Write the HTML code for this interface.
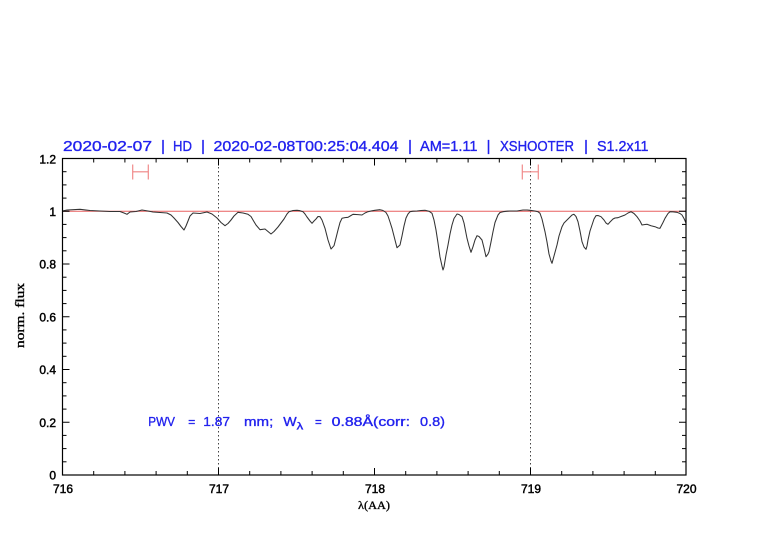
<!DOCTYPE html>
<html>
<head>
<meta charset="utf-8">
<style>
html,body{margin:0;padding:0;background:#fff;}
svg{display:block;}
</style>
</head>
<body>
<svg width="782" height="542" viewBox="0 0 782 542" xmlns="http://www.w3.org/2000/svg">
<rect width="782" height="542" fill="#fff"/>

<!-- title -->
<g font-family="Liberation Sans, sans-serif" font-size="14.5" fill="#2222ee" stroke="#2222ee" stroke-width="0.35" lengthAdjust="spacingAndGlyphs">
<text x="63" y="151" textLength="89" lengthAdjust="spacingAndGlyphs">2020-02-07</text>
<text x="163" y="151" text-anchor="middle">|</text>
<text x="173" y="151" textLength="19" lengthAdjust="spacingAndGlyphs">HD</text>
<text x="203" y="151" text-anchor="middle">|</text>
<text x="213.5" y="151" textLength="185" lengthAdjust="spacingAndGlyphs">2020-02-08T00:25:04.404</text>
<text x="410" y="151" text-anchor="middle">|</text>
<text x="420" y="151" textLength="57.5" lengthAdjust="spacingAndGlyphs">AM=1.11</text>
<text x="488.5" y="151" text-anchor="middle">|</text>
<text x="500" y="151" textLength="74" lengthAdjust="spacingAndGlyphs">XSHOOTER</text>
<text x="586" y="151" text-anchor="middle">|</text>
<text x="597" y="151" textLength="51.5" lengthAdjust="spacingAndGlyphs">S1.2x11</text>
</g>

<!-- dotted vertical lines -->
<line x1="218.5" y1="159" x2="218.5" y2="475" stroke="#444" stroke-width="1" stroke-dasharray="1.5,2.5"/>
<line x1="530.5" y1="159" x2="530.5" y2="475" stroke="#444" stroke-width="1" stroke-dasharray="1.5,2.5"/>

<!-- reference line at 1 -->
<line x1="62.5" y1="211.3" x2="686" y2="211.3" stroke="#e86060" stroke-width="1"/>

<!-- red bars -->
<g stroke="#f08a8a" stroke-width="1.2" fill="none">
<line x1="132.7" y1="164.5" x2="132.7" y2="179.5"/>
<line x1="148.3" y1="164.5" x2="148.3" y2="179.5"/>
<line x1="132.7" y1="171.8" x2="148.3" y2="171.8"/>
<line x1="522.3" y1="164.5" x2="522.3" y2="179.5"/>
<line x1="538.3" y1="164.5" x2="538.3" y2="179.5"/>
<line x1="522.3" y1="171.8" x2="538.3" y2="171.8"/>
</g>

<!-- spectrum -->
<polyline fill="none" stroke="#333" stroke-width="1.05" stroke-linejoin="round" stroke-linecap="round" points="
62.5,211 67,210 80,209.3 90,210.5 100,211 110,211.5 120,211.5 124,213 127,214.3 130,212 136,211.5 142,210 148,211 153,212 160,212.5 167,213 171,215 174,218 178,222.5 181,226.5 184,230 186,226 188,221 190,216 193,213 200,213.5 207,212 212,214 217,218 221,222.5 225,225.7 228,223.5 231,220 234,216 238,212.3 243,213 248,214.3 251,216.5 253,220 256,225 260,229.7 265,229 268,231.5 271,234 274,231.5 278,227 281,223 284,219 287,214 289,211.7 293,210.5 297,210.3 300,210.7 303,211.7 305,214 307,217 310,221 312,223.3 314,221 316,219 318,216.5 320,216.7 322,220 325,228.3 328,240 331,249 334,245.7 336,238 338,230 340,222.5 342,218.3 345,217.6 348,217.3 351,215.5 353,214.3 358,214.6 362,215 365,213 368,211.7 372,210.8 375,210.3 380,209.7 383,210.5 386,212.5 388,216 390,222 392,228.3 395,240 397,247.7 400,245 402,236 404,226 406,218 408,214 410,211.7 413,211.2 417,211 421,210.5 425,210.3 429,211.2 432,213.3 434,220 436,230 438,243 440,257 442,266 443,270 444,267 446,255 448,245 450,234 452,225 454,218.5 457,214 459,214.5 462,216.7 464,223 467,238.3 469,246 471,252.3 473,246.7 475,240 477,235.7 479,236.5 482,240 484,248 486,256.7 488,254 489,251.7 491,242 493,231.7 495,222.5 498,215 500,212.5 503,211.7 507,211.2 510,211 514,211 517,211 520,210.5 523,210 527,210 530,210.3 535,211 538,211.7 540,213.3 542,219 545,231.7 547,242 549,254 551,261 552,263.3 554,256 557,245 559,236 562,226.7 564,223 567,220 570,217 572,215 574,214.3 576,216.5 578,221.7 580,231 582,241.7 584,247 586,249.3 587,246 588,240 590,231 592,225 594,219 596,215.7 598,215.5 601,216.7 604,220 606,223 608,224.3 610,222 613,219 615,218 618,217.7 621,216.5 625,215 628,213 631,211.7 634,213.5 637,216.7 640,221 642,225 645,224.5 647,224.3 651,225.7 655,226.7 658,228 660,228.3 663,222.5 665,218.3 668,213.5 670,211.7 673,211.8 677,212.3 680,213.5 682,215 684,218.5 686,223"/>

<!-- axes box -->
<rect x="62.5" y="158.5" width="623.5" height="316.5" fill="none" stroke="#000" stroke-width="1.2"/>

<!-- x ticks -->
<g stroke="#000" stroke-width="1">
<line x1="93.7" y1="475" x2="93.7" y2="471"/><line x1="93.7" y1="158.5" x2="93.7" y2="162.5"/>
<line x1="124.9" y1="475" x2="124.9" y2="471"/><line x1="124.9" y1="158.5" x2="124.9" y2="162.5"/>
<line x1="156.1" y1="475" x2="156.1" y2="471"/><line x1="156.1" y1="158.5" x2="156.1" y2="162.5"/>
<line x1="187.3" y1="475" x2="187.3" y2="471"/><line x1="187.3" y1="158.5" x2="187.3" y2="162.5"/>
<line x1="218.5" y1="475" x2="218.5" y2="468"/><line x1="218.5" y1="158.5" x2="218.5" y2="165.5"/>
<line x1="249.7" y1="475" x2="249.7" y2="471"/><line x1="249.7" y1="158.5" x2="249.7" y2="162.5"/>
<line x1="280.9" y1="475" x2="280.9" y2="471"/><line x1="280.9" y1="158.5" x2="280.9" y2="162.5"/>
<line x1="312.1" y1="475" x2="312.1" y2="471"/><line x1="312.1" y1="158.5" x2="312.1" y2="162.5"/>
<line x1="343.3" y1="475" x2="343.3" y2="471"/><line x1="343.3" y1="158.5" x2="343.3" y2="162.5"/>
<line x1="374.5" y1="475" x2="374.5" y2="468"/><line x1="374.5" y1="158.5" x2="374.5" y2="165.5"/>
<line x1="405.7" y1="475" x2="405.7" y2="471"/><line x1="405.7" y1="158.5" x2="405.7" y2="162.5"/>
<line x1="436.9" y1="475" x2="436.9" y2="471"/><line x1="436.9" y1="158.5" x2="436.9" y2="162.5"/>
<line x1="468.1" y1="475" x2="468.1" y2="471"/><line x1="468.1" y1="158.5" x2="468.1" y2="162.5"/>
<line x1="499.3" y1="475" x2="499.3" y2="471"/><line x1="499.3" y1="158.5" x2="499.3" y2="162.5"/>
<line x1="530.5" y1="475" x2="530.5" y2="468"/><line x1="530.5" y1="158.5" x2="530.5" y2="165.5"/>
<line x1="561.7" y1="475" x2="561.7" y2="471"/><line x1="561.7" y1="158.5" x2="561.7" y2="162.5"/>
<line x1="592.9" y1="475" x2="592.9" y2="471"/><line x1="592.9" y1="158.5" x2="592.9" y2="162.5"/>
<line x1="624.1" y1="475" x2="624.1" y2="471"/><line x1="624.1" y1="158.5" x2="624.1" y2="162.5"/>
<line x1="655.3" y1="475" x2="655.3" y2="471"/><line x1="655.3" y1="158.5" x2="655.3" y2="162.5"/>
</g>

<!-- y ticks -->
<g stroke="#000" stroke-width="1">
<line x1="62.5" y1="461.8" x2="66.5" y2="461.8"/><line x1="686" y1="461.8" x2="682" y2="461.8"/>
<line x1="62.5" y1="448.6" x2="66.5" y2="448.6"/><line x1="686" y1="448.6" x2="682" y2="448.6"/>
<line x1="62.5" y1="435.4" x2="66.5" y2="435.4"/><line x1="686" y1="435.4" x2="682" y2="435.4"/>
<line x1="62.5" y1="422.25" x2="69.5" y2="422.25"/><line x1="686" y1="422.25" x2="679" y2="422.25"/>
<line x1="62.5" y1="409.1" x2="66.5" y2="409.1"/><line x1="686" y1="409.1" x2="682" y2="409.1"/>
<line x1="62.5" y1="395.9" x2="66.5" y2="395.9"/><line x1="686" y1="395.9" x2="682" y2="395.9"/>
<line x1="62.5" y1="382.7" x2="66.5" y2="382.7"/><line x1="686" y1="382.7" x2="682" y2="382.7"/>
<line x1="62.5" y1="369.5" x2="69.5" y2="369.5"/><line x1="686" y1="369.5" x2="679" y2="369.5"/>
<line x1="62.5" y1="356.3" x2="66.5" y2="356.3"/><line x1="686" y1="356.3" x2="682" y2="356.3"/>
<line x1="62.5" y1="343.1" x2="66.5" y2="343.1"/><line x1="686" y1="343.1" x2="682" y2="343.1"/>
<line x1="62.5" y1="329.9" x2="66.5" y2="329.9"/><line x1="686" y1="329.9" x2="682" y2="329.9"/>
<line x1="62.5" y1="316.75" x2="69.5" y2="316.75"/><line x1="686" y1="316.75" x2="679" y2="316.75"/>
<line x1="62.5" y1="303.6" x2="66.5" y2="303.6"/><line x1="686" y1="303.6" x2="682" y2="303.6"/>
<line x1="62.5" y1="290.4" x2="66.5" y2="290.4"/><line x1="686" y1="290.4" x2="682" y2="290.4"/>
<line x1="62.5" y1="277.2" x2="66.5" y2="277.2"/><line x1="686" y1="277.2" x2="682" y2="277.2"/>
<line x1="62.5" y1="264" x2="69.5" y2="264"/><line x1="686" y1="264" x2="679" y2="264"/>
<line x1="62.5" y1="250.8" x2="66.5" y2="250.8"/><line x1="686" y1="250.8" x2="682" y2="250.8"/>
<line x1="62.5" y1="237.6" x2="66.5" y2="237.6"/><line x1="686" y1="237.6" x2="682" y2="237.6"/>
<line x1="62.5" y1="224.4" x2="66.5" y2="224.4"/><line x1="686" y1="224.4" x2="682" y2="224.4"/>
<line x1="62.5" y1="211.25" x2="69.5" y2="211.25"/><line x1="686" y1="211.25" x2="679" y2="211.25"/>
<line x1="62.5" y1="198.1" x2="66.5" y2="198.1"/><line x1="686" y1="198.1" x2="682" y2="198.1"/>
<line x1="62.5" y1="184.9" x2="66.5" y2="184.9"/><line x1="686" y1="184.9" x2="682" y2="184.9"/>
<line x1="62.5" y1="171.7" x2="66.5" y2="171.7"/><line x1="686" y1="171.7" x2="682" y2="171.7"/>
</g>

<!-- y labels -->
<g font-family="Liberation Sans, sans-serif" font-size="12" fill="#000" text-anchor="end" stroke="#000" stroke-width="0.45">
<text x="56" y="163.5">1.2</text>
<text x="56" y="216">1</text>
<text x="56" y="268.5">0.8</text>
<text x="56" y="321.5">0.6</text>
<text x="56" y="374">0.4</text>
<text x="56" y="427">0.2</text>
<text x="56" y="479.5">0</text>
</g>

<!-- x labels -->
<g font-family="Liberation Sans, sans-serif" font-size="12" fill="#000" text-anchor="middle" stroke="#000" stroke-width="0.45">
<text x="63" y="493">716</text>
<text x="219" y="493">717</text>
<text x="375" y="493">718</text>
<text x="531" y="493">719</text>
<text x="686.5" y="493">720</text>
</g>

<!-- axis titles -->
<text x="358" y="509" font-family="Liberation Serif, serif" font-size="12" fill="#000" stroke="#000" stroke-width="0.35" textLength="32" lengthAdjust="spacingAndGlyphs">λ(AA)</text>
<text transform="translate(24,348) rotate(-90)" font-family="Liberation Serif, serif" font-size="12.5" fill="#000" stroke="#000" stroke-width="0.35" textLength="65" lengthAdjust="spacingAndGlyphs">norm. flux</text>

<!-- annotation -->
<g font-family="Liberation Sans, sans-serif" font-size="13" fill="#2222ee" stroke="#2222ee" stroke-width="0.35">
<text x="148.3" y="426" textLength="26.7" lengthAdjust="spacingAndGlyphs">PWV</text>
<text x="188.3" y="426" textLength="7" lengthAdjust="spacingAndGlyphs">=</text>
<text x="203.3" y="426" textLength="26.7" lengthAdjust="spacingAndGlyphs">1.87</text>
<text x="244" y="426" textLength="29.3" lengthAdjust="spacingAndGlyphs">mm;</text>
<text x="283.3" y="426" textLength="13.4" lengthAdjust="spacingAndGlyphs">W</text>
<text x="296.7" y="429.5" font-size="10" textLength="6.6" lengthAdjust="spacingAndGlyphs">λ</text>
<text x="315" y="426" textLength="6.7" lengthAdjust="spacingAndGlyphs">=</text>
<text x="331.7" y="426" textLength="78.3" lengthAdjust="spacingAndGlyphs">0.88Å(corr:</text>
<text x="420" y="426" textLength="25" lengthAdjust="spacingAndGlyphs">0.8)</text>
</g>
</svg>
</body>
</html>
